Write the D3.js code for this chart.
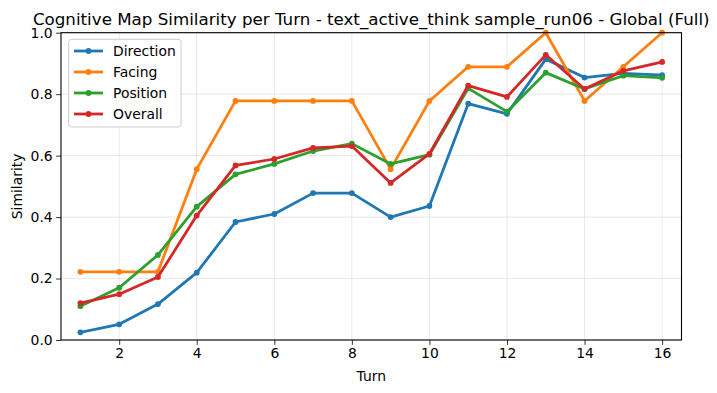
<!DOCTYPE html>
<html><head><meta charset="utf-8">
<script src="https://cdn.jsdelivr.net/npm/d3@7"></script>
<style>
body{margin:0;background:#fff;}
text{font-family:"DejaVu Sans",sans-serif;fill:#000;}
</style></head>
<body><svg id="c" width="717" height="393"></svg>
<script>
const turns = [1,2,3,4,5,6,7,8,9,10,11,12,13,14,15,16];
const direction = [0.025,0.051,0.117,0.219,0.384,0.410,0.478,0.478,0.400,0.436,0.769,0.736,0.914,0.854,0.868,0.862];
const facing = [0.222,0.222,0.222,0.556,0.778,0.778,0.778,0.778,0.556,0.778,0.889,0.889,1.0,0.778,0.889,1.0];
const position = [0.110,0.170,0.277,0.434,0.539,0.573,0.615,0.639,0.573,0.603,0.819,0.743,0.870,0.817,0.860,0.853];
const overall = [0.120,0.149,0.205,0.405,0.568,0.589,0.625,0.631,0.511,0.606,0.828,0.791,0.928,0.817,0.876,0.905];
const seriesNames = ["Direction","Facing","Position","Overall"];
const colors = ["#1f77b4","#ff7f0e","#2ca02c","#d62728"];
const xTicks = [2,4,6,8,10,12,14,16];
const yTicks = [0.0,0.2,0.4,0.6,0.8,1.0];
const title = "Cognitive Map Similarity per Turn - text_active_think sample_run06 - Global (Full)";

const series = [direction, facing, position, overall];
const L=61, R=681.5, T=32.7, B=340;
const svg = d3.select("#c");
const x = d3.scaleLinear().domain([0.5,16.5]).range([L,R]);
const y = d3.scaleLinear().domain([0,1]).range([B,T]);

// grid
const g = svg.append("g");
g.selectAll(".gx").data(xTicks).enter().append("line")
 .attr("x1",d=>x(d)).attr("x2",d=>x(d)).attr("y1",T).attr("y2",B)
 .attr("stroke","#b0b0b0").attr("stroke-opacity",0.35).attr("stroke-width",0.8);
g.selectAll(".gy").data(yTicks).enter().append("line")
 .attr("x1",L).attr("x2",R).attr("y1",d=>y(d)).attr("y2",d=>y(d))
 .attr("stroke","#b0b0b0").attr("stroke-opacity",0.35).attr("stroke-width",0.8);

// axes
const xa = svg.append("g").attr("transform",`translate(0,${B})`)
 .call(d3.axisBottom(x).tickValues(xTicks).tickFormat(d3.format("d")).tickSize(4.9).tickSizeOuter(0));
const ya = svg.append("g").attr("transform",`translate(${L},0)`)
 .call(d3.axisLeft(y).tickValues(yTicks).tickFormat(d3.format(".1f")).tickSize(4.9).tickSizeOuter(0));
[xa,ya].forEach(a=>{
 a.select(".domain").remove();
 a.selectAll(".tick line").attr("stroke","#000").attr("stroke-width",0.8);
 a.selectAll(".tick text").style("font-size","13.9px").attr("fill","#000");
});
xa.selectAll(".tick text").attr("dy","0.71em").attr("y",8.3);
ya.selectAll(".tick text").attr("x",-8.3);

// lines
const line = d3.line().x((d,i)=>x(turns[i])).y(d=>y(d));
series.forEach((s,k)=>{
 const sg = svg.append("g");
 sg.append("path").datum(s).attr("d",line).attr("fill","none")
  .attr("stroke",colors[k]).attr("stroke-width",2.78).attr("stroke-linejoin","round").attr("stroke-linecap","square");
 sg.selectAll("circle").data(s).enter().append("circle")
  .attr("cx",(d,i)=>x(turns[i])).attr("cy",d=>y(d)).attr("r",2.9).attr("fill",colors[k]);
});

// frame
svg.append("rect").attr("x",L).attr("y",T).attr("width",R-L).attr("height",B-T)
 .attr("fill","none").attr("stroke","#000").attr("stroke-width",1.1);

// legend
const lg = svg.append("g");
lg.append("rect").attr("x",68.7).attr("y",39.3).attr("width",112.3).attr("height",87.7)
 .attr("rx",3).attr("fill","#fff").attr("fill-opacity",0.8).attr("stroke","#cccccc").attr("stroke-width",1);
seriesNames.forEach((n,k)=>{
 const yy = 51 + k*21;
 lg.append("line").attr("x1",74).attr("x2",103).attr("y1",yy).attr("y2",yy)
  .attr("stroke",colors[k]).attr("stroke-width",2.78);
 lg.append("circle").attr("cx",88.5).attr("cy",yy).attr("r",2.9).attr("fill",colors[k]);
 lg.append("text").attr("x",113).attr("y",yy).attr("dy","0.35em").style("font-size","13.9px").text(n);
});

// labels
svg.append("text").attr("x",(L+R)/2).attr("y",25).attr("text-anchor","middle").style("font-size","16.7px").text(title);
svg.append("text").attr("x",(L+R)/2).attr("y",381).attr("text-anchor","middle").style("font-size","13.9px").text("Turn");
svg.append("text").attr("transform",`translate(22,${(T+B)/2}) rotate(-90)`).attr("text-anchor","middle").style("font-size","13.9px").text("Similarity");
</script></body></html>
